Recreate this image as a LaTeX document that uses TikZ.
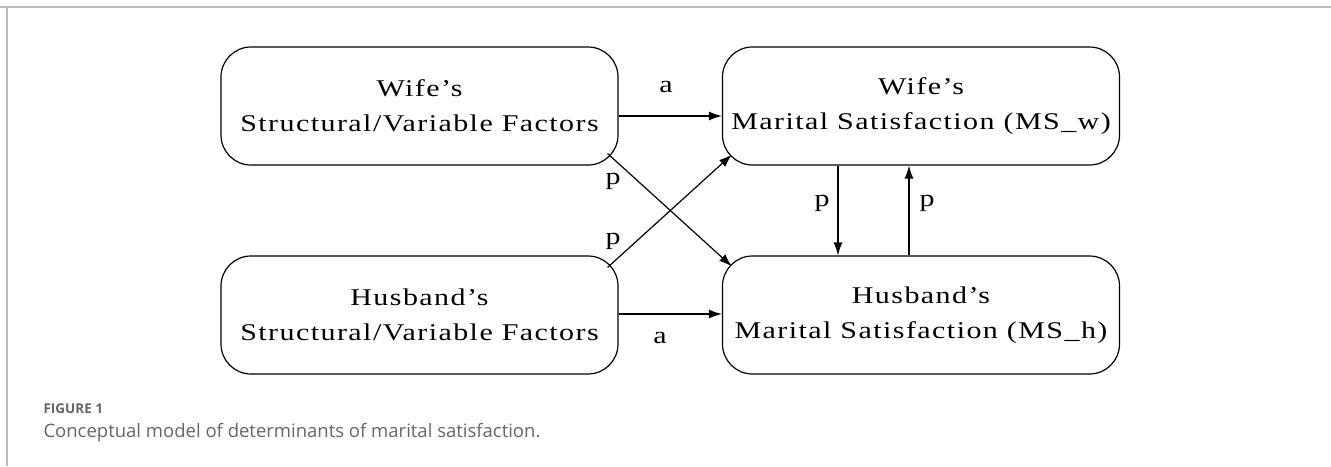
\documentclass[tikz,border=0pt]{standalone}
\usepackage{fontspec}
\setmainfont{Liberation Serif}[FakeStretch=1.25,LetterSpace=6]
\newfontfamily\capfont{Open Sans}
\usepackage{tikz}
\usepackage{xcolor}
\usetikzlibrary{arrows.meta}
\definecolor{capgray}{HTML}{666666}
\definecolor{framegray}{HTML}{BBBBBB}
\tikzset{
  factorbox/.style={draw, line width=1.2pt, rounded corners=30pt, minimum width=397pt, minimum height=118pt, align=center, font=\fontsize{24}{35}\selectfont},
  pathlabel/.style={font=\fontsize{24}{27}\selectfont},
  patharrow/.style={line width=1.2pt, -{Latex[length=13pt,width=9pt]}}
}

\begin{document}
\begin{tikzpicture}[x=1pt,y=-1pt]
\useasboundingbox (0,0) rectangle (1331,466);
\draw [framegray, line width=2pt] (0,7) -- (1331,7);
\draw [framegray, line width=1.5pt] (7,7) -- (7,466);

\node [factorbox] (wfac) at (419.5,106) {Wife’s\\Structural/Variable Factors};
\node [factorbox] (wms) at (921,106) {Wife’s\\Marital Satisfaction (MS\_w)};
\node [factorbox] (hfac) at (419.5,315) {Husband’s\\Structural/Variable Factors};
\node [factorbox] (hms) at (921,315) {Husband’s\\Marital Satisfaction (MS\_h)};

\draw [patharrow] ([yshift=-10pt]wfac.east) -- ([yshift=-10pt]wms.west);
\draw [patharrow] ([yshift=1pt]hfac.east) -- ([yshift=1pt]hms.west);
\draw [patharrow] ([xshift=-11pt,yshift=12pt]wfac.south east) -- ([xshift=10pt,yshift=-11pt]hms.north west);
\draw [patharrow] ([xshift=-11pt,yshift=-12pt]hfac.north east) -- ([xshift=10pt,yshift=11pt]wms.south west);
\draw [patharrow] ([xshift=-83pt]wms.south) -- ([xshift=-83pt]hms.north);
\draw [patharrow] ([xshift=-12pt]hms.north) -- ([xshift=-12pt]wms.south);

\node [pathlabel] (la1) at (666,87) {a};
\node [pathlabel] (la2) at (660,338) {a};
\node [pathlabel] (lp1) at (613,181) {p};
\node [pathlabel] (lp2) at (613,241) {p};
\node [pathlabel] (lp3) at (822,203) {p};
\node [pathlabel] (lp4) at (927,203) {p};

\node [color=capgray, anchor=west, font=\capfont\bfseries\fontsize{13.5}{15}\selectfont] (figno) at (40,409) {FIGURE 1};
\node [color=capgray, anchor=west, font=\capfont\fontsize{18.5}{22}\selectfont] (caption) at (40,433) {Conceptual model of determinants of marital satisfaction.};
\end{tikzpicture}
\end{document}
